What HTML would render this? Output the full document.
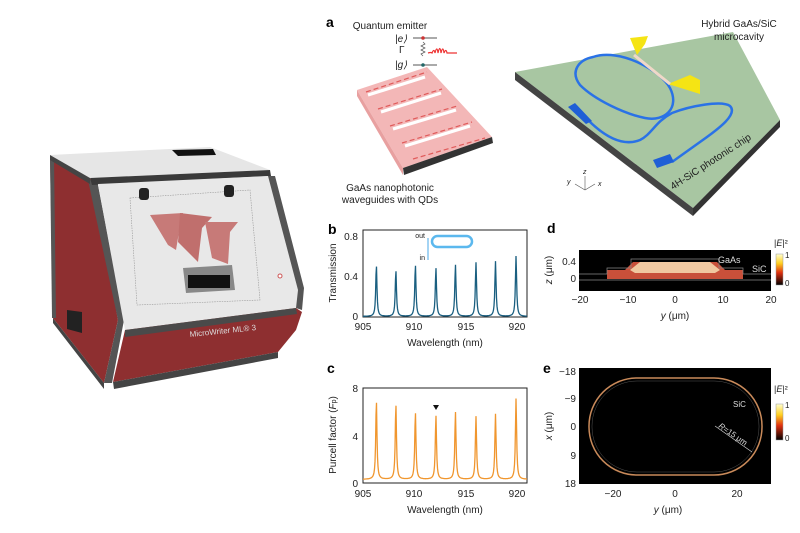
<!DOCTYPE html>
<html><head><meta charset="utf-8"><style>
body{margin:0;background:#fff;width:800px;height:533px;overflow:hidden}
svg{display:block}
text{font-family:"Liberation Sans",sans-serif;fill:#222}
.b{font-weight:bold;font-size:14px;fill:#000}
.t{font-size:10px}
</style></head><body>
<svg width="800" height="533" viewBox="0 0 800 533" xmlns="http://www.w3.org/2000/svg">
<!-- Machine -->
<polygon points="50,158 92,180 118,320 104,383 53,318" fill="#8e2f30"/>
<polygon points="50,156 54,158 56,318 52,318" fill="#555"/>
<polygon points="88,180 97,180 124,320 112,383 104,383 118,320" fill="#555"/>
<polygon points="53,318 104,383 104,389 53,323" fill="#444"/>
<polygon points="67,310 82,312 82,333 67,329" fill="#222"/>
<polygon points="50,155 210,147 270,170 90,178" fill="#e6e6e6"/>
<polygon points="50,155 90,178 90,184 50,160" fill="#444"/>
<polygon points="90,178 270,170 271,176 92,185" fill="#3a3a3a"/>
<polygon points="172,150 213,149 216,155 178,156" fill="#111"/>
<polygon points="98,184 268,176 298,290 296,308 125,330" fill="#e8e8e8"/>
<polygon points="268,176 275,176 304,288 302,310 296,308 298,290" fill="#555"/>
<polygon points="130,198 250,190 260,300 137,305" fill="none" stroke="#999" stroke-width="0.6" stroke-dasharray="1.5,1"/>
<rect x="139" y="188" width="10" height="12" rx="3" fill="#222"/>
<rect x="224" y="185" width="10" height="12" rx="3" fill="#222"/>
<polygon points="150,215 183,213 180,226 176,250 168,245" fill="#c77a78"/>
<polygon points="180,213 212,217 202,228 198,262 178,242" fill="#c06f6d"/>
<polygon points="205,222 238,222 230,232 228,264 212,258" fill="#c77a78"/>
<polygon points="183,268 232,265 235,290 186,293" fill="#888"/>
<rect x="188" y="275" width="42" height="13" fill="#111"/>
<circle cx="280" cy="276" r="2" fill="#fff" stroke="#c55" stroke-width="1"/>
<polygon points="125,330 296,308 302,312 296,330 278,352 113,382" fill="#8e2f30"/>
<polygon points="125,330 296,308 297,314 125,337" fill="#4a4a4a"/>
<polygon points="113,382 278,352 278,358 114,389" fill="#444"/>
<text x="190" y="337" font-size="8" style="fill:#ddd" transform="rotate(-6 190 337)">MicroWriter ML® 3</text>

<!-- Panel a -->
<text class="b" x="326" y="27">a</text>
<text class="t" x="390" y="29" text-anchor="middle">Quantum emitter</text>
<text class="t" x="395" y="42" font-style="italic">|e⟩</text>
<line x1="413" y1="38" x2="437" y2="38" stroke="#555"/>
<circle cx="423" cy="38" r="1.8" fill="#c33"/>
<text class="t" x="399" y="53" font-size="8">Γ</text>
<path d="M423,42 l2,2 -4,2 4,2 -4,2 4,2 -4,2 2,2" fill="none" stroke="#555" stroke-width="0.7"/>
<path d="M428,53 q3,-1 4,0 q2,-5 3,0 q2,-8 3,0 q2,-9 3,0 q2,-8 3,0 q2,-5 3,0 l10,0" fill="none" stroke="#e33" stroke-width="1.2"/>
<text class="t" x="395" y="68" font-style="italic">|g⟩</text>
<line x1="413" y1="65" x2="437" y2="65" stroke="#555"/>
<circle cx="423" cy="65" r="1.8" fill="#266"/>
<polygon points="357,90 427,67 492,137 403,168" fill="#f3b7b7"/>
<polygon points="357,90 403,168 403,175 357,96" fill="#e8a0a0"/>
<polygon points="403,168 492,137 493,143 404,175" fill="#333"/>
<g stroke="#fff" stroke-width="3.2">
<line x1="368" y1="95" x2="425" y2="77"/><line x1="381" y1="112" x2="441" y2="93"/>
<line x1="393" y1="129" x2="456" y2="110"/><line x1="405" y1="146" x2="470" y2="126"/>
</g>
<g stroke="#e05a5a" stroke-width="1.2" stroke-dasharray="5,3">
<line x1="366" y1="92" x2="427" y2="72"/><line x1="378" y1="109" x2="442" y2="89"/>
<line x1="390" y1="126" x2="457" y2="106"/><line x1="402" y1="143" x2="472" y2="122"/><line x1="413" y1="159" x2="485" y2="138"/>
</g>
<text class="t" x="390" y="191" text-anchor="middle">GaAs nanophotonic</text>
<text class="t" x="390" y="203" text-anchor="middle">waveguides with QDs</text>
<!-- SiC chip -->
<polygon points="515,72 733,32 780,120 693,208" fill="#a8c6a2"/>
<polygon points="515,72 693,208 693,216 515,80" fill="#444"/>
<polygon points="693,208 780,120 780,127 693,216" fill="#333"/>
<path d="M593,57 C620,48 660,70 670,88 C680,108 665,122 645,118 C625,114 595,100 580,85 C570,72 578,60 593,57 Z" fill="none" stroke="#2a72e6" stroke-width="2.5"/>
<path d="M588,120 C600,132 620,148 640,140 C652,134 655,122 672,113 C690,106 722,100 730,106 C738,114 720,128 700,142 L672,162" fill="none" stroke="#2a72e6" stroke-width="2.5"/>
<polygon points="568,107 575,103 592,121 586,124" fill="#1f5fd6"/>
<polygon points="653,160 670,154 674,162 657,168" fill="#1f5fd6"/>
<polygon points="630,38 648,36 645,44 637,55" fill="#f5e414"/>
<polygon points="668,84 690,75 700,80 700,94" fill="#f5e414"/>
<line x1="634" y1="55" x2="670" y2="84" stroke="#f0d8c8" stroke-width="3"/>
<text class="t" x="739" y="27" text-anchor="middle">Hybrid GaAs/SiC</text>
<text class="t" x="739" y="40" text-anchor="middle">microcavity</text>
<text class="t" x="673" y="190" transform="rotate(-33 673 190)">4H-SiC photonic chip</text>
<g stroke="#555" stroke-width="0.6"><line x1="585" y1="190" x2="585" y2="176"/><line x1="585" y1="190" x2="575" y2="184"/><line x1="585" y1="190" x2="595" y2="184"/></g>
<text x="583" y="174" font-size="7" font-style="italic">z</text>
<text x="567" y="184" font-size="7" font-style="italic">y</text>
<text x="598" y="186" font-size="7" font-style="italic">x</text>

<!-- Panel b -->
<text class="b" x="328" y="234">b</text>
<rect x="363" y="230" width="164" height="87" fill="none" stroke="#222" stroke-width="1"/>
<path id="pb" fill="none" stroke="#1a5f80" stroke-width="1.3"/>
<g class="t" text-anchor="end"><text x="358" y="240">0.8</text><text x="358" y="280">0.4</text><text x="358" y="320">0</text></g>
<g class="t" text-anchor="middle"><text x="363" y="330">905</text><text x="414" y="330">910</text><text x="466" y="330">915</text><text x="517" y="330">920</text><text x="445" y="346">Wavelength (nm)</text></g>
<text class="t" x="336" y="273" text-anchor="middle" transform="rotate(-90 336 273)">Transmission</text>
<line x1="428" y1="238" x2="428" y2="260" stroke="#4aa8e8" stroke-width="1"/>
<rect x="432" y="236" width="40" height="11" rx="5.5" fill="none" stroke="#5bb8ee" stroke-width="2.5"/>
<text x="425" y="238" font-size="7" text-anchor="end">out</text>
<text x="425" y="260" font-size="7" text-anchor="end">in</text>

<!-- Panel c -->
<text class="b" x="327" y="373">c</text>
<rect x="363" y="388" width="164" height="95" fill="none" stroke="#222" stroke-width="1"/>
<path id="pc" fill="none" stroke="#f0962e" stroke-width="1.3"/>
<polygon points="433,405 439,405 436,410" fill="#111"/>
<g class="t" text-anchor="end"><text x="358" y="392">8</text><text x="358" y="440">4</text><text x="358" y="487">0</text></g>
<g class="t" text-anchor="middle"><text x="363" y="497">905</text><text x="414" y="497">910</text><text x="466" y="497">915</text><text x="517" y="497">920</text><text x="445" y="513">Wavelength (nm)</text></g>
<text class="t" x="336" y="435" text-anchor="middle" transform="rotate(-90 336 435)">Purcell factor (<tspan font-style="italic">F</tspan><tspan font-size="7">p</tspan>)</text>

<!-- Panel d -->
<text class="b" x="547" y="233">d</text>
<rect x="579" y="250" width="192" height="41" fill="#000"/>
<polygon points="607,279 607,270 625,270 633,262 717,262 725,270 743,270 743,279" fill="#c8503a"/>
<polygon points="630,270 640,262 710,262 720,270 715,273 635,273" fill="#f0c8a0"/>
<path d="M579,274 L607,274 L607,268 L631,268 L631,259 L719,259 L719,268 L743,268 L743,274 L771,274 M579,280 L771,280" fill="none" stroke="#888" stroke-width="0.7"/>
<text x="718" y="263" font-size="9" style="fill:#ddd">GaAs</text>
<text x="752" y="272" font-size="9" style="fill:#ddd">SiC</text>
<g class="t" text-anchor="end"><text x="576" y="265">0.4</text><text x="576" y="282">0</text></g>
<g class="t" text-anchor="middle"><text x="580" y="303">−20</text><text x="628" y="303">−10</text><text x="675" y="303">0</text><text x="723" y="303">10</text><text x="771" y="303">20</text><text x="675" y="319"><tspan font-style="italic">y</tspan> (μm)</text></g>
<text class="t" x="552" y="270" text-anchor="middle" transform="rotate(-90 552 270)"><tspan font-style="italic">z</tspan> (μm)</text>
<defs><linearGradient id="cb" x1="0" y1="0" x2="0" y2="1"><stop offset="0" stop-color="#ffffd0"/><stop offset="0.3" stop-color="#ffd020"/><stop offset="0.6" stop-color="#e03010"/><stop offset="1" stop-color="#000"/></linearGradient></defs>
<rect x="776" y="254" width="7" height="31" fill="url(#cb)" stroke="#999" stroke-width="0.5"/>
<text x="774" y="246" font-size="9">|<tspan font-style="italic">E</tspan>|²</text>
<text x="785" y="258" font-size="8">1</text><text x="785" y="286" font-size="8">0</text>

<!-- Panel e -->
<text class="b" x="543" y="373">e</text>
<rect x="579" y="368" width="192" height="116" fill="#000"/>
<rect x="589" y="378" width="173" height="97" rx="48" fill="none" stroke="#c98a5a" stroke-width="1.5"/>
<rect x="592" y="381" width="167" height="91" rx="45" fill="none" stroke="#555" stroke-width="0.5"/>
<line x1="715" y1="426" x2="752" y2="452" stroke="#ddd" stroke-width="0.6"/>
<text x="718" y="427" font-size="8" style="fill:#ddd" transform="rotate(35 718 427)"><tspan font-style="italic">R</tspan>=15 μm</text>
<text x="733" y="407" font-size="8" style="fill:#ddd">SiC</text>
<g class="t" text-anchor="end"><text x="576" y="375">−18</text><text x="576" y="402">−9</text><text x="576" y="430">0</text><text x="576" y="459">9</text><text x="576" y="487">18</text></g>
<g class="t" text-anchor="middle"><text x="613" y="497">−20</text><text x="675" y="497">0</text><text x="737" y="497">20</text><text x="668" y="513"><tspan font-style="italic">y</tspan> (μm)</text></g>
<text class="t" x="552" y="426" text-anchor="middle" transform="rotate(-90 552 426)"><tspan font-style="italic">x</tspan> (μm)</text>
<rect x="776" y="404" width="7" height="36" fill="url(#cb)" stroke="#999" stroke-width="0.5"/>
<text x="774" y="392" font-size="9">|<tspan font-style="italic">E</tspan>|²</text>
<text x="785" y="408" font-size="8">1</text><text x="785" y="441" font-size="8">0</text>
</svg>
<script>
function lor(peaks,hs,y0,scale,base,g){var d="";for(var x=363;x<=527;x+=0.5){var wl=905+(x-363)/10.27,v=base;for(var i=0;i<peaks.length;i++){var t=(wl-peaks[i])/g;v+=hs[i]/(1+t*t);}d+=(d?"L":"M")+x.toFixed(1)+","+(y0-v*scale).toFixed(1);}return d;}
var pk=[906.3,908.2,910.1,912.1,914.0,916.0,917.9,919.9];
document.getElementById("pb").setAttribute("d",lor(pk,[.49,.44,.49,.46,.49,.51,.52,.57],317,106,0.005,0.07));
document.getElementById("pc").setAttribute("d",lor(pk,[6.7,6.4,5.7,5.4,5.7,5.3,5.5,6.8],483,11.9,0.3,0.07));
</script>
</body></html>
